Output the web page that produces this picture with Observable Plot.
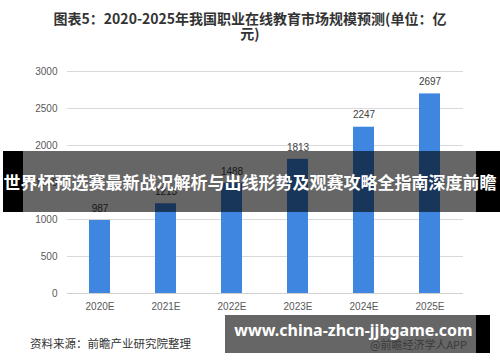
<!DOCTYPE html>
<html>
<head>
<meta charset="utf-8">
<script src="https://cdn.jsdelivr.net/npm/d3@7"></script>
<script src="https://cdn.jsdelivr.net/npm/@observablehq/plot@0.6"></script>
<style>
  html, body { margin: 0; padding: 0; background: #fff; }
  #wrap { position: relative; width: 500px; height: 362px; overflow: hidden; background: #fff; }
  #chart { position: absolute; left: 0; top: 0; }
  .title { position: absolute; left: 0; top: 11px; width: 500px; text-align: center;
    font-family: "Noto Sans CJK SC", "Liberation Sans", sans-serif; font-weight: bold;
    font-size: 14px; line-height: 15px; color: #333; }
  .blk { position: absolute; background: #000; }
  .shade { position: absolute; background: rgba(0,0,0,0.6); }
  .banner-text { position: absolute; left: -20px; width: 540px; top: 151px; height: 61px; line-height: 61px;
    text-align: center; white-space: nowrap; color: #fff; font-weight: bold; font-size: 17px;
    font-family: "Noto Sans CJK SC", sans-serif; }
  .source { position: absolute; left: 30px; top: 335px; font-size: 11.5px; line-height: 16px; color: #333;
    font-family: "Noto Sans CJK SC", sans-serif; white-space: nowrap; }
  .app { position: absolute; left: 370px; top: 337px; font-size: 11px; line-height: 15px; color: #3a3a3a;
    font-family: "Noto Sans CJK SC", sans-serif; white-space: nowrap; }
  .url { position: absolute; left: 228px; width: 251px; top: 315px; height: 30px; line-height: 30px;
    text-align: center; color: #fff; font-weight: bold; font-size: 16px; font-family: "Noto Sans", sans-serif; white-space: nowrap; }
</style>
</head>
<body>
<div id="wrap">
  <div id="chart"></div>
  <div class="title">图表5：2020-2025年我国职业在线教育市场规模预测(单位：亿<br>元)</div>
  <div class="blk" style="left:3px;top:151px;width:20px;height:61px"></div>
  <div class="shade" style="left:23px;top:151px;width:453px;height:61px"></div>
  <div class="blk" style="left:476px;top:151px;width:24px;height:61px"></div>
  <div class="banner-text">世界杯预选赛最新战况解析与出线形势及观赛攻略全指南深度前瞻</div>
  <div class="source">资料来源：前瞻产业研究院整理</div>
  <div class="shade" style="left:225px;top:315px;width:251px;height:38px"></div>
  <div class="blk" style="left:476px;top:315px;width:14px;height:38px"></div>
  <div class="app">@前瞻经济学人APP</div>
  <div class="url">www.china-zhcn-jjbgame.com</div>
</div>
<script>
const years = ["2020E", "2021E", "2022E", "2023E", "2024E", "2025E"];
const values = [987, 1213, 1488, 1813, 2247, 2697];
const yTicks = [0, 500, 1000, 1500, 2000, 2500, 3000];

const data = years.map((year, i) => ({year, value: values[i]}));

const chart = Plot.plot({
  width: 500,
  height: 362,
  marginTop: 71,
  marginBottom: 69,
  marginLeft: 67,
  marginRight: 37,
  style: {fontFamily: "'Liberation Sans', Arial, sans-serif", fontSize: "10px", color: "#595959", background: "transparent"},
  x: {domain: years, paddingInner: 0.68, paddingOuter: 0.34, label: null},
  y: {domain: [0, 3000], ticks: yTicks, label: null},
  marks: [
    Plot.gridY(yTicks, {stroke: "#d9d9d9", strokeOpacity: 1}),
    Plot.barY(data, {x: "year", y: "value", fill: "#3e86e0"}),
    Plot.ruleY([0], {stroke: "#d0d0d0", strokeOpacity: 1}),
    Plot.text(data, {x: "year", y: "value", text: d => String(d.value), dy: -12, fill: "#404040", fontSize: 10}),
    Plot.axisY(yTicks, {tickSize: 0, tickPadding: 10, label: null, fill: "#595959", tickFormat: d => String(d)}),
    Plot.axisX({tickSize: 0, tickPadding: 9, label: null, fill: "#595959"})
  ]
});
document.getElementById("chart").appendChild(chart);
</script>
</body>
</html>
